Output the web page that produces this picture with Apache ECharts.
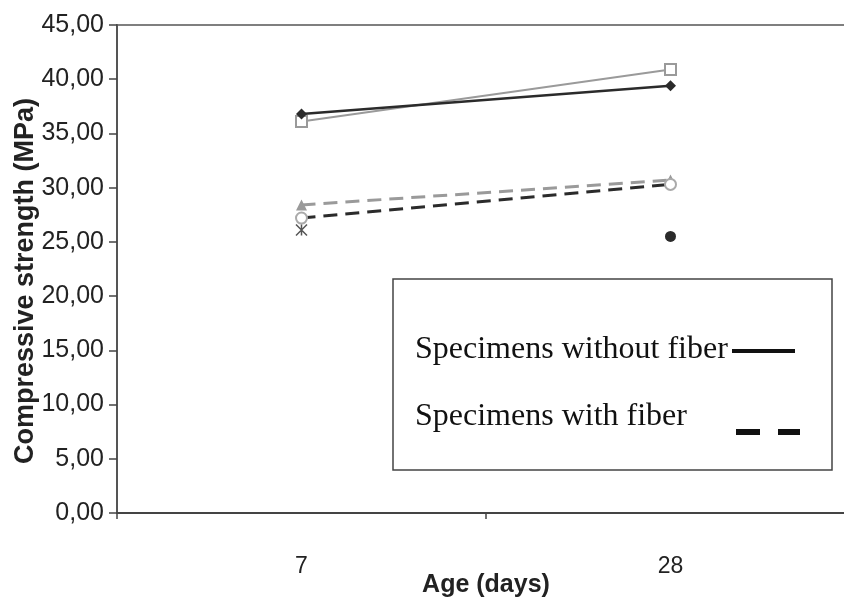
<!DOCTYPE html>
<html>
<head>
<meta charset="utf-8">
<script src="https://cdn.jsdelivr.net/npm/echarts@6/dist/echarts.min.js"></script>
<style>html,body{margin:0;padding:0;background:#fff;overflow:hidden}#c{width:855px;height:603px}</style>
</head>
<body>
<div id="c"></div>
<script>
const categories = ['7', '28'];
const yTicks = [0, 5, 10, 15, 20, 25, 30, 35, 40, 45];
const noFiberA = [36.8, 39.4];   // dark, diamond
const noFiberB = [36.1, 40.9];   // grey, square
const fiberA = [28.4, 30.7];     // grey, triangle, dashed
const fiberB = [27.2, 30.3];     // dark, open circle, dashed
const singleStar = [26.1, null]; // asterisk at 7 days
const singleDot = [null, 25.5];  // filled dot at 28 days
const legendLabels = ['Specimens without fiber', 'Specimens with fiber'];

const chart = echarts.init(document.getElementById('c'));
const dark = '#2b2b2b', grey = '#9a9a9a';
chart.setOption({
  animation: false,
  backgroundColor: '#fff',
  grid: { left: 117, top: 25, right: 0, bottom: 90, containLabel: false, outerBoundsMode: 'none',
    show: true, borderColor: '#555', borderWidth: 1.5, backgroundColor: 'transparent' },
  xAxis: {
    type: 'category', data: categories, boundaryGap: true,
    axisLine: { lineStyle: { color: '#444', width: 2 } },
    axisTick: { show: true, length: 6, lineStyle: { color: '#444', width: 1.5 } },
    axisLabel: { fontFamily: 'Liberation Sans', fontSize: 23, color: '#222', margin: 42 },
    name: 'Age (days)', nameLocation: 'middle', nameGap: 60, nameMoveOverlap: false,
    nameTextStyle: { fontFamily: 'Liberation Sans', fontSize: 25, fontWeight: 'bold', color: '#222' }
  },
  yAxis: {
    type: 'value', min: yTicks[0], max: yTicks[yTicks.length - 1], interval: 5,
    splitLine: { show: false },
    axisLine: { show: true, lineStyle: { color: '#555', width: 2 } },
    axisTick: { show: true, length: 8, lineStyle: { color: '#444', width: 1.5 } },
    axisLabel: { fontFamily: 'Liberation Sans', fontSize: 25, color: '#222', margin: 13,
      formatter: v => v.toFixed(2).replace('.', ',') },
    name: 'Compressive strength (MPa)', nameLocation: 'middle', nameGap: 78, nameMoveOverlap: false,
    nameTextStyle: { fontFamily: 'Liberation Sans', fontSize: 27, fontWeight: 'bold', color: '#222', padding: [0, 24, 0, 0] }
  },
  series: [
    { type: 'line', data: noFiberB, symbol: 'emptyRect', symbolSize: 11,
      lineStyle: { color: grey, width: 2 }, itemStyle: { color: grey, borderColor: grey, borderWidth: 1.5 } },
    { type: 'line', data: noFiberA, symbol: 'diamond', symbolSize: 11,
      lineStyle: { color: dark, width: 2.5 }, itemStyle: { color: dark } },
    { type: 'line', data: fiberA, symbol: 'triangle', symbolSize: 11,
      lineStyle: { color: grey, width: 3, type: [14, 8] }, itemStyle: { color: grey } },
    { type: 'line', data: fiberB, symbol: 'emptyCircle', symbolSize: 11,
      lineStyle: { color: dark, width: 3, type: [14, 8] }, itemStyle: { color: '#aaa', borderColor: '#aaa', borderWidth: 1.5 } },
    { type: 'line', data: singleStar, symbol: 'path://M0,0L10,10M10,0L0,10M5,0L5,10', symbolSize: 11,
      lineStyle: { width: 0 }, itemStyle: { color: 'none', borderColor: '#555', borderWidth: 1.5 } },
    { type: 'line', data: singleDot, symbol: 'circle', symbolSize: 11,
      lineStyle: { width: 0 }, itemStyle: { color: dark } }
  ],
  graphic: [
    { type: 'rect', shape: { x: 393, y: 279, width: 439, height: 191 }, style: { fill: '#fff', stroke: '#444', lineWidth: 1.5 }, z: 100 },
    { type: 'text', x: 415, y: 350, style: { text: legendLabels[0], font: '32px "Liberation Serif"', fill: '#111', textVerticalAlign: 'middle' }, z: 101 },
    { type: 'text', x: 415, y: 417, style: { text: legendLabels[1], font: '32px "Liberation Serif"', fill: '#111', textVerticalAlign: 'middle' }, z: 101 },
    { type: 'line', shape: { x1: 732, y1: 351, x2: 795, y2: 351 }, style: { stroke: '#111', lineWidth: 4 }, z: 101 },
    { type: 'line', shape: { x1: 736, y1: 432, x2: 800, y2: 432 }, style: { stroke: '#111', lineWidth: 6, lineDash: [24, 18] }, z: 101 }
  ]
});
</script>
</body>
</html>
